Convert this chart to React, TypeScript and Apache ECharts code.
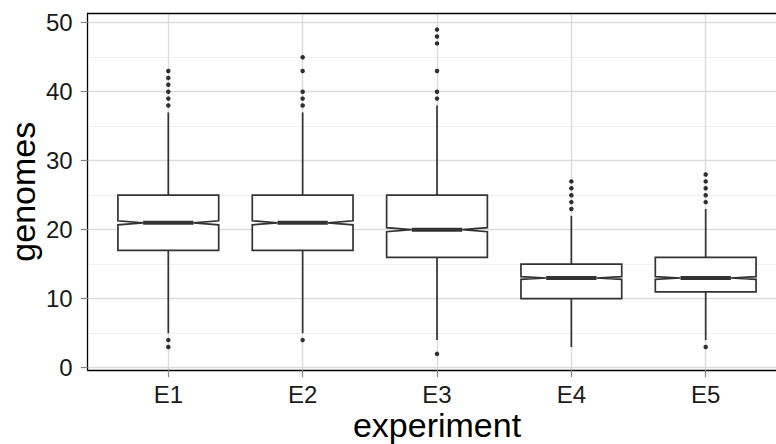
import React, { useEffect, useRef } from 'react';
import * as echarts from 'echarts';

const categories = ['E1', 'E2', 'E3', 'E4', 'E5'];
const lowerWhisker = [5, 5, 4, 3, 4];
const q1 = [17, 17, 16, 10, 11];
const median = [21, 21, 20, 13, 13];
const q3 = [25, 25, 25, 15, 16];
const upperWhisker = [37, 37, 38, 22, 23];
const notchHalf = [0.3, 0.3, 0.3, 0.2, 0.2];
const outliersE1 = [43, 42, 41, 40, 39, 38, 4, 3];
const outliersE2 = [45, 43, 40, 39, 38, 4];
const outliersE3 = [49, 48, 47, 43, 40, 39, 2];
const outliersE4 = [27, 26, 25, 24, 23];
const outliersE5 = [28, 27, 26, 25, 24, 3];
const outliers = [outliersE1, outliersE2, outliersE3, outliersE4, outliersE5];
const yTicks = [0, 10, 20, 30, 40, 50];
const xTicks = [1, 2, 3, 4, 5];

const FONT = '"Liberation Sans", Arial, Helvetica, sans-serif';

export default function App() {
  const ref = useRef<HTMLDivElement>(null);
  useEffect(() => {
    if (!ref.current) return;
    const chart = echarts.init(ref.current, null, { renderer: 'svg' });
    const boxData = categories.map((_, i) => [
      i + 1, lowerWhisker[i], q1[i], median[i], q3[i], upperWhisker[i], notchHalf[i],
    ]);
    const outlierData: number[][] = [];
    outliers.forEach((arr, i) => arr.forEach((v) => outlierData.push([i + 1, v])));
    const stroke = '#333333';
    const hw = 0.375;
    const iw = 0.1875;
    chart.setOption({
      animation: false,
      backgroundColor: '#ffffff',
      textStyle: { fontFamily: FONT },
      grid: {
        left: 87.7, top: 13.4, right: -10.3, bottom: 73.9,
        containLabel: false, outerBoundsMode: 'none',
        show: true, backgroundColor: '#ffffff', borderWidth: 0,
      },
      xAxis: [
        {
          type: 'value',
          min: 0.4,
          max: 5.6,
          minInterval: 1,
          maxInterval: 1,
          name: 'experiment',
          nameLocation: 'middle',
          nameGap: 38,
          nameMoveOverlap: false,
          nameTextStyle: { fontSize: 34, color: '#000', fontFamily: FONT },
          axisLine: { show: true, onZero: false, lineStyle: { color: '#000', width: 1.3 } },
          axisTick: { show: true, length: 7, customValues: xTicks, lineStyle: { color: '#888', width: 1.2 } },
          axisLabel: {
            customValues: xTicks,
            margin: 12,
            fontSize: 24,
            color: '#1a1a1a',
            fontFamily: FONT,
            formatter: (v: number) => categories[Math.round(v) - 1] ?? '',
          },
          splitLine: { show: true, lineStyle: { color: '#dcdcdc', width: 1.4 } },
        },
        {
          type: 'value',
          position: 'top',
          min: 0.4,
          max: 5.6,
          axisLine: { show: true, onZero: false, lineStyle: { color: '#000', width: 1.3 } },
          axisTick: { show: false },
          axisLabel: { show: false },
          splitLine: { show: false },
        },
      ],
      yAxis: {
        type: 'value',
        min: -0.35,
        max: 51.35,
        minInterval: 10,
        maxInterval: 10,
        name: 'genomes',
        nameLocation: 'middle',
        nameGap: 48,
        nameMoveOverlap: false,
        nameRotate: 90,
        nameTextStyle: { fontSize: 34, color: '#000', fontFamily: FONT },
        axisLine: { show: true, onZero: false, lineStyle: { color: '#000', width: 1.3 } },
        axisTick: { show: true, length: 7, customValues: yTicks, lineStyle: { color: '#888', width: 1.2 } },
        axisLabel: { customValues: yTicks, margin: 15, fontSize: 24, color: '#1a1a1a', fontFamily: FONT },
        splitLine: { show: true, lineStyle: { color: '#dcdcdc', width: 1.4 } },
        minorTick: { show: false, splitNumber: 2 },
        minorSplitLine: { show: true, lineStyle: { color: '#f0f0f0', width: 1 } },
      },
      series: [
        {
          type: 'custom',
          data: boxData,
          encode: { x: 0, y: [1, 2, 3, 4, 5] },
          z: 3,
          renderItem: (_params: any, api: any) => {
            const x = api.value(0);
            const lo = api.value(1);
            const a = api.value(2);
            const m = api.value(3);
            const b = api.value(4);
            const hi = api.value(5);
            const n = api.value(6);
            const c = (xx: number, yy: number) => api.coord([xx, yy]);
            const pts = [
              c(x - hw, b), c(x + hw, b), c(x + hw, m + n), c(x + iw, m), c(x + hw, m - n),
              c(x + hw, a), c(x - hw, a), c(x - hw, m - n), c(x - iw, m), c(x - hw, m + n),
            ];
            const top = c(x, b), topEnd = c(x, hi), bot = c(x, a), botEnd = c(x, lo);
            const ml = c(x - iw, m), mr = c(x + iw, m);
            return {
              type: 'group',
              children: [
                { type: 'line', shape: { x1: top[0], y1: top[1], x2: topEnd[0], y2: topEnd[1] }, style: { stroke, lineWidth: 1.7 } },
                { type: 'line', shape: { x1: bot[0], y1: bot[1], x2: botEnd[0], y2: botEnd[1] }, style: { stroke, lineWidth: 1.7 } },
                { type: 'polygon', shape: { points: pts }, style: { fill: '#ffffff', stroke, lineWidth: 1.7, lineJoin: 'miter' } },
                { type: 'line', shape: { x1: ml[0], y1: ml[1], x2: mr[0], y2: mr[1] }, style: { stroke, lineWidth: 4 } },
              ],
            };
          },
        },
        {
          type: 'scatter',
          data: outlierData,
          symbol: 'circle',
          symbolSize: 4.5,
          itemStyle: { color: '#000' },
          z: 4,
        },
      ],
    });
    return () => chart.dispose();
  }, []);
  return <div ref={ref} style={{ position: 'fixed', left: 0, top: 0, width: 776, height: 444 }} />;
}
